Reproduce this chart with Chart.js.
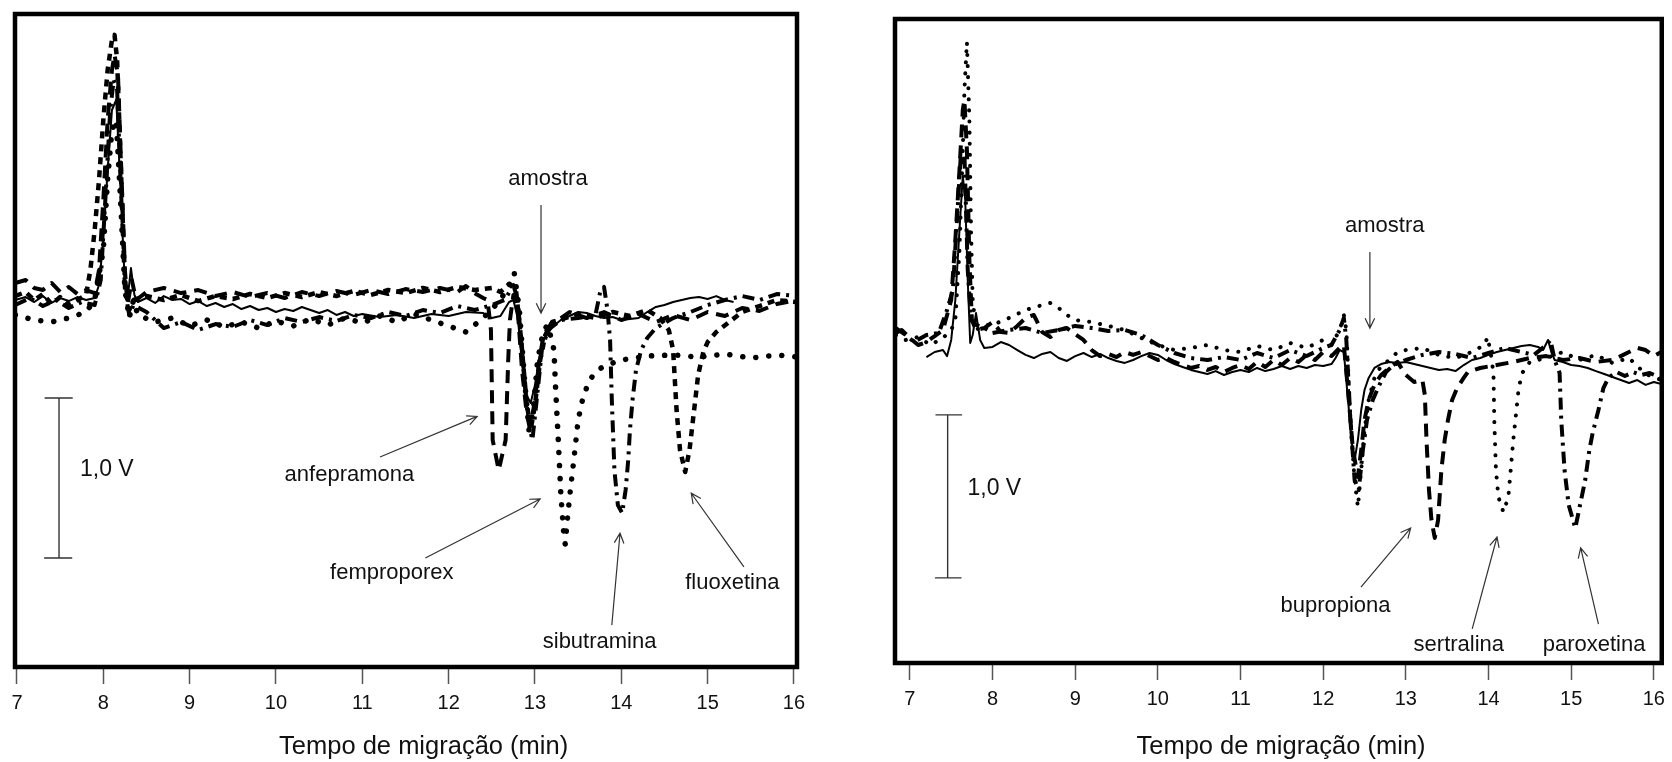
<!DOCTYPE html>
<html lang="pt">
<head>
  <meta charset="UTF-8" />
  <title>Eletroferogramas</title>
  <script src="https://cdn.jsdelivr.net/npm/chart.js"></script>
  <style>
    html, body { margin: 0; padding: 0; background: #fff; }
    #wrap { position: relative; width: 1672px; height: 762px; }
    canvas { position: absolute; top: 0; }
    #left { left: 0; }
    #right { left: 836px; }
  </style>
</head>
<body>
  <div id="wrap">
    <canvas id="left" width="836" height="762"></canvas>
    <canvas id="right" width="836" height="762"></canvas>
  </div>

  <script>
    // tempo de migração (min) x sinal (V)
    const xTicks = [7, 8, 9, 10, 11, 12, 13, 14, 15, 16];

    // ---- painel esquerdo ----
    const amostraL = [[6.98,-0.0625],[7.1,-0.044],[7.2,-0.075],[7.3,-0.038],[7.4,-0.081],[7.5,-0.05],[7.6,-0.069],[7.7,-0.044],[7.8,-0.0625],[7.9,-0.05],[7.95,0.031],[8.0,0.3125],[8.05,0.75],[8.1,1.125],[8.15,1.19],[8.2,0.625],[8.25,0.031],[8.28,-0.0625],[8.32,0.1375],[8.36,-0.031],[8.4,-0.075],[8.5,-0.05],[8.6,-0.081],[8.7,-0.038],[8.8,-0.0625],[8.9,-0.056],[9.0,-0.0875],[9.1,-0.069],[9.2,-0.1],[9.3,-0.081],[9.4,-0.106],[9.5,-0.0875],[9.6,-0.119],[9.7,-0.1],[9.8,-0.125],[9.9,-0.1125],[10.0,-0.1375],[10.1,-0.119],[10.2,-0.131],[10.3,-0.106],[10.4,-0.125],[10.5,-0.144],[10.6,-0.125],[10.7,-0.156],[10.8,-0.1375],[10.9,-0.1625],[11.0,-0.15],[11.2,-0.169],[11.4,-0.156],[11.6,-0.175],[11.8,-0.15],[12.0,-0.1625],[12.2,-0.1375],[12.4,-0.144],[12.5,-0.175],[12.6,-0.1625],[12.7,-0.075],[12.75,-0.0625],[12.8,-0.175],[12.85,-0.4375],[12.9,-0.656],[12.95,-0.706],[13.0,-0.594],[13.05,-0.425],[13.1,-0.3125],[13.2,-0.231],[13.3,-0.1875],[13.4,-0.1625],[13.5,-0.1375],[13.6,-0.144],[13.7,-0.1625],[13.8,-0.175],[13.9,-0.169],[14.0,-0.1875],[14.1,-0.181],[14.2,-0.175],[14.3,-0.1375],[14.4,-0.106],[14.5,-0.094],[14.6,-0.075],[14.7,-0.0625],[14.8,-0.05],[14.9,-0.044],[15.0,-0.056],[15.1,-0.038],[15.2,-0.0625],[15.3,-0.075]];
    const anfepramona = [[6.98,0.044],[7.1,0.0625],[7.2,0.0125],[7.3,0],[7.4,0.044],[7.5,-0.0125],[7.6,0.019],[7.7,-0.025],[7.8,0],[7.9,-0.019],[7.95,0.125],[8.0,0.5625],[8.05,1.0625],[8.1,1.375],[8.13,1.47],[8.17,1.344],[8.2,0.875],[8.25,0.125],[8.28,-0.094],[8.33,0.0625],[8.38,-0.0625],[8.5,-0.0125],[8.7,0.0125],[8.9,-0.019],[9.1,0],[9.3,-0.0375],[9.5,-0.0125],[9.7,-0.044],[9.9,-0.019],[10.1,-0.05],[10.3,-0.0125],[10.5,-0.0375],[10.7,-0.006],[10.9,-0.031],[11.1,0],[11.3,-0.025],[11.5,0.006],[11.7,-0.0125],[11.9,0.0125],[12.1,-0.0125],[12.2,0.025],[12.3,-0.019],[12.4,-0.05],[12.45,-0.0625],[12.49,-0.25],[12.51,-0.9375],[12.58,-1.125],[12.66,-0.9375],[12.69,-0.4375],[12.71,-0.1875],[12.75,-0.031],[12.8,-0.125],[12.85,-0.5],[12.9,-0.75],[12.95,-0.844],[13.0,-0.6875],[13.05,-0.4375],[13.1,-0.281],[13.2,-0.2],[13.3,-0.175],[13.4,-0.1375],[13.6,-0.175],[13.8,-0.1375],[14.0,-0.1875],[14.2,-0.15],[14.4,-0.2],[14.6,-0.156],[14.8,-0.1875],[15.0,-0.1375],[15.2,-0.1625],[15.4,-0.1125],[15.6,-0.131],[15.8,-0.0875],[16.03,-0.0625]];
    const femproporex = [[6.98,-0.156],[7.2,-0.1875],[7.4,-0.2],[7.6,-0.175],[7.8,-0.1375],[7.9,-0.0625],[8.0,0.25],[8.05,0.6875],[8.1,1.0],[8.15,1.0625],[8.2,0.5625],[8.25,0.0],[8.3,-0.175],[8.35,-0.0625],[8.4,-0.156],[8.6,-0.2],[8.8,-0.175],[9.0,-0.225],[9.2,-0.1875],[9.4,-0.231],[9.6,-0.2],[9.8,-0.2375],[10.0,-0.194],[10.2,-0.225],[10.4,-0.181],[10.6,-0.219],[10.8,-0.175],[11.0,-0.206],[11.2,-0.1625],[11.4,-0.2],[11.6,-0.15],[11.8,-0.1875],[12.0,-0.225],[12.2,-0.2625],[12.4,-0.175],[12.6,-0.0625],[12.7,0.031],[12.76,0.106],[12.82,-0.125],[12.88,-0.5625],[12.93,-0.875],[12.98,-0.75],[13.03,-0.4375],[13.1,-0.25],[13.15,-0.219],[13.22,-0.375],[13.24,-0.625],[13.27,-0.9375],[13.3,-1.28],[13.33,-1.5],[13.35,-1.5875],[13.38,-1.406],[13.41,-1.25],[13.45,-1.0625],[13.5,-0.8125],[13.55,-0.6875],[13.62,-0.575],[13.7,-0.5125],[13.8,-0.475],[14.0,-0.4375],[14.3,-0.4125],[14.6,-0.406],[14.9,-0.419],[15.2,-0.4],[15.5,-0.425],[15.8,-0.406],[16.03,-0.419]];
    const sibutramina = [[6.98,-0.094],[7.15,-0.05],[7.3,-0.1],[7.45,-0.0625],[7.6,-0.1125],[7.75,-0.075],[7.9,-0.094],[7.97,0.0625],[8.03,0.625],[8.08,1.125],[8.12,1.3125],[8.16,1.25],[8.2,0.6875],[8.25,0.0],[8.3,-0.156],[8.35,-0.094],[8.5,-0.1375],[8.7,-0.2375],[8.9,-0.2],[9.1,-0.25],[9.3,-0.2125],[9.5,-0.231],[9.7,-0.1875],[9.9,-0.219],[10.1,-0.175],[10.3,-0.2],[10.5,-0.169],[10.7,-0.194],[10.9,-0.156],[11.1,-0.175],[11.3,-0.1375],[11.5,-0.1625],[11.7,-0.125],[11.9,-0.144],[12.1,-0.1],[12.3,-0.125],[12.5,-0.094],[12.65,-0.0625],[12.75,0.031],[12.8,-0.0625],[12.86,-0.4375],[12.92,-0.8125],[12.97,-0.9375],[13.02,-0.6875],[13.08,-0.375],[13.15,-0.25],[13.3,-0.1875],[13.5,-0.175],[13.7,-0.156],[13.76,0.0],[13.8,0.019],[13.84,-0.125],[13.87,-0.3125],[13.89,-0.6875],[13.92,-1.125],[13.96,-1.344],[14.01,-1.394],[14.05,-1.25],[14.08,-1.0625],[14.1,-0.875],[14.13,-0.6875],[14.17,-0.5],[14.23,-0.375],[14.3,-0.3],[14.4,-0.2375],[14.6,-0.175],[14.8,-0.1375],[15.0,-0.094],[15.2,-0.0625],[15.4,-0.0375],[15.6,-0.0625],[15.8,-0.025],[16.03,-0.0375]];
    const fluoxetina = [[6.98,-0.0375],[7.1,-0.0125],[7.2,-0.0625],[7.3,-0.025],[7.4,-0.0875],[7.5,-0.044],[7.6,-0.094],[7.7,-0.0625],[7.8,-0.031],[7.85,0.125],[7.9,0.375],[7.95,0.6875],[8.0,1.0625],[8.05,1.375],[8.1,1.5625],[8.13,1.594],[8.16,1.4375],[8.2,0.8125],[8.25,0.0625],[8.3,-0.125],[8.35,-0.0625],[8.5,-0.0375],[8.7,-0.0625],[8.9,-0.031],[9.1,-0.069],[9.3,-0.0375],[9.5,-0.056],[9.7,-0.025],[9.9,-0.05],[10.1,-0.019],[10.3,-0.044],[10.5,-0.0125],[10.7,-0.0375],[10.9,-0.006],[11.1,-0.031],[11.3,0.0],[11.5,-0.019],[11.7,0.0125],[11.9,-0.0125],[12.1,0.019],[12.3,0.0],[12.5,0.0125],[12.6,-0.0125],[12.7,0.0375],[12.78,0.0],[12.84,-0.3125],[12.9,-0.6875],[12.95,-0.875],[13.0,-0.719],[13.06,-0.4375],[13.12,-0.281],[13.2,-0.2],[13.35,-0.175],[13.5,-0.15],[13.7,-0.175],[13.9,-0.1375],[14.1,-0.1625],[14.3,-0.125],[14.45,-0.175],[14.55,-0.25],[14.6,-0.375],[14.64,-0.75],[14.68,-1.0],[14.74,-1.1375],[14.79,-1.0],[14.83,-0.8125],[14.89,-0.531],[14.95,-0.3875],[15.0,-0.325],[15.1,-0.2625],[15.25,-0.2],[15.4,-0.1375],[15.6,-0.1],[15.8,-0.0625],[16.03,-0.075]];

    // ---- painel direito ----
    const amostraR = [[7.2,-0.166],[7.3,-0.135],[7.4,-0.123],[7.45,-0.16],[7.5,-0.061],[7.55,0.184],[7.6,0.613],[7.64,0.945],[7.67,0.798],[7.7,0.307],[7.73,-0.08],[7.76,-0.031],[7.8,0.104],[7.85,-0.061],[7.9,-0.11],[8.0,-0.104],[8.1,-0.074],[8.2,-0.092],[8.3,-0.123],[8.4,-0.153],[8.5,-0.172],[8.6,-0.147],[8.7,-0.135],[8.8,-0.172],[8.9,-0.19],[9.0,-0.16],[9.1,-0.141],[9.2,-0.166],[9.3,-0.147],[9.4,-0.172],[9.5,-0.19],[9.6,-0.202],[9.7,-0.184],[9.8,-0.16],[9.9,-0.141],[10.0,-0.153],[10.1,-0.184],[10.2,-0.209],[10.3,-0.227],[10.4,-0.245],[10.5,-0.258],[10.6,-0.27],[10.7,-0.252],[10.8,-0.276],[10.9,-0.258],[11.0,-0.245],[11.1,-0.258],[11.2,-0.233],[11.3,-0.252],[11.4,-0.239],[11.5,-0.221],[11.6,-0.239],[11.7,-0.221],[11.8,-0.233],[11.9,-0.215],[12.0,-0.221],[12.1,-0.209],[12.15,-0.172],[12.2,-0.123],[12.25,-0.135],[12.3,-0.429],[12.35,-0.706],[12.38,-0.798],[12.42,-0.675],[12.46,-0.491],[12.5,-0.368],[12.55,-0.294],[12.62,-0.233],[12.7,-0.209],[12.8,-0.196],[12.9,-0.202],[13.0,-0.196],[13.1,-0.209],[13.2,-0.221],[13.3,-0.233],[13.4,-0.245],[13.5,-0.239],[13.6,-0.252],[13.7,-0.215],[13.8,-0.184],[13.9,-0.172],[14.0,-0.153],[14.1,-0.135],[14.2,-0.123],[14.3,-0.11],[14.4,-0.098],[14.5,-0.092],[14.6,-0.104],[14.66,-0.123],[14.72,-0.061],[14.76,-0.135],[14.8,-0.184],[14.9,-0.196],[15.0,-0.215],[15.1,-0.221],[15.2,-0.233],[15.3,-0.252],[15.4,-0.27],[15.5,-0.288],[15.6,-0.307],[15.7,-0.325],[15.8,-0.307],[15.9,-0.337],[16.0,-0.319],[16.09,-0.331]];
    const bupropiona = [[6.83,-0.018],[6.9,0],[7.0,-0.049],[7.1,-0.092],[7.2,-0.074],[7.3,-0.037],[7.4,0],[7.5,0.184],[7.55,0.552],[7.6,0.982],[7.64,1.35],[7.66,1.411],[7.69,1.104],[7.72,0.429],[7.75,0.061],[7.8,0],[7.9,0.012],[8.0,0.049],[8.1,-0.012],[8.2,-0.018],[8.3,0.025],[8.4,0.074],[8.5,0.092],[8.6,-0.012],[8.7,-0.043],[8.8,0],[8.9,0.012],[9.0,-0.025],[9.1,-0.061],[9.2,-0.123],[9.3,-0.16],[9.4,-0.147],[9.5,-0.166],[9.6,-0.135],[9.7,-0.153],[9.8,-0.135],[9.9,-0.16],[10.0,-0.184],[10.1,-0.172],[10.2,-0.196],[10.3,-0.215],[10.4,-0.233],[10.5,-0.221],[10.6,-0.245],[10.7,-0.227],[10.8,-0.258],[10.9,-0.233],[11.0,-0.215],[11.1,-0.239],[11.2,-0.196],[11.3,-0.227],[11.4,-0.184],[11.5,-0.215],[11.6,-0.172],[11.7,-0.196],[11.8,-0.153],[11.9,-0.184],[12.0,-0.135],[12.1,-0.16],[12.2,-0.11],[12.25,-0.092],[12.3,-0.368],[12.36,-0.736],[12.42,-0.902],[12.46,-0.736],[12.5,-0.552],[12.55,-0.429],[12.62,-0.337],[12.7,-0.276],[12.8,-0.233],[12.9,-0.196],[13.0,-0.276],[13.1,-0.319],[13.2,-0.307],[13.23,-0.399],[13.25,-0.675],[13.28,-0.982],[13.31,-1.166],[13.35,-1.276],[13.39,-1.166],[13.43,-0.859],[13.47,-0.675],[13.51,-0.552],[13.56,-0.429],[13.62,-0.356],[13.7,-0.294],[13.75,-0.258],[13.9,-0.233],[14.1,-0.215],[14.3,-0.196],[14.5,-0.172],[14.7,-0.16],[14.9,-0.184],[15.1,-0.172],[15.3,-0.196],[15.5,-0.184],[15.6,-0.16],[15.7,-0.135],[15.8,-0.11],[15.9,-0.123],[16.0,-0.16],[16.09,-0.135]];
    const sertralina = [[6.83,-0.031],[6.95,-0.061],[7.1,-0.043],[7.25,-0.092],[7.4,-0.049],[7.5,0.0],[7.55,0.061],[7.6,0.491],[7.64,1.104],[7.66,1.472],[7.69,1.767],[7.72,1.288],[7.74,0.613],[7.76,0.184],[7.8,0],[7.9,0.031],[8.0,0.031],[8.2,0.074],[8.4,0.123],[8.6,0.153],[8.7,0.166],[8.8,0.135],[8.9,0.092],[9.0,0.061],[9.2,0.049],[9.4,0.025],[9.6,0],[9.8,-0.049],[10.0,-0.092],[10.2,-0.123],[10.4,-0.11],[10.6,-0.092],[10.8,-0.123],[11.0,-0.135],[11.2,-0.098],[11.4,-0.123],[11.6,-0.08],[11.8,-0.11],[12.0,-0.061],[12.1,-0.092],[12.2,0],[12.25,0.092],[12.28,0],[12.33,-0.552],[12.38,-0.92],[12.42,-1.086],[12.46,-0.859],[12.5,-0.613],[12.55,-0.429],[12.62,-0.294],[12.7,-0.221],[12.8,-0.184],[12.9,-0.135],[13.0,-0.123],[13.2,-0.11],[13.4,-0.153],[13.6,-0.172],[13.8,-0.135],[13.95,-0.092],[13.99,-0.043],[14.03,-0.153],[14.06,-0.264],[14.07,-0.552],[14.09,-0.859],[14.12,-1.025],[14.18,-1.117],[14.24,-1.025],[14.3,-0.675],[14.36,-0.38],[14.4,-0.27],[14.5,-0.196],[14.7,-0.172],[14.9,-0.135],[15.1,-0.184],[15.3,-0.153],[15.5,-0.202],[15.7,-0.172],[15.9,-0.27],[16.09,-0.307]];
    const paroxetina = [[6.83,0.012],[6.95,-0.031],[7.05,-0.074],[7.2,-0.031],[7.35,-0.018],[7.45,0.123],[7.52,0.245],[7.57,0.675],[7.62,1.104],[7.66,1.08],[7.7,0.368],[7.74,0.061],[7.8,0.031],[7.9,0.012],[8.0,-0.018],[8.2,0],[8.4,0.012],[8.6,-0.018],[8.8,0],[9.0,0.025],[9.2,0.012],[9.4,-0.006],[9.6,0],[9.8,-0.031],[10.0,-0.092],[10.2,-0.141],[10.4,-0.172],[10.6,-0.184],[10.8,-0.166],[11.0,-0.184],[11.2,-0.141],[11.4,-0.172],[11.6,-0.123],[11.8,-0.16],[12.0,-0.11],[12.1,-0.092],[12.2,0],[12.25,0.074],[12.28,-0.061],[12.33,-0.552],[12.38,-0.92],[12.43,-0.982],[12.48,-0.736],[12.53,-0.552],[12.6,-0.429],[12.68,-0.337],[12.76,-0.258],[12.85,-0.215],[13.0,-0.184],[13.2,-0.153],[13.4,-0.135],[13.6,-0.147],[13.8,-0.172],[14.0,-0.141],[14.2,-0.11],[14.4,-0.135],[14.55,-0.153],[14.7,-0.092],[14.75,-0.061],[14.8,-0.184],[14.86,-0.264],[14.88,-0.552],[14.92,-0.859],[14.97,-1.074],[15.05,-1.215],[15.12,-1.043],[15.17,-0.92],[15.22,-0.736],[15.26,-0.632],[15.33,-0.491],[15.39,-0.356],[15.45,-0.294],[15.55,-0.258],[15.65,-0.282],[15.75,-0.258],[15.85,-0.276],[15.95,-0.264],[16.09,-0.294]];

    // barras de escala de 1,0 V
    const scaleBarL = [[7.32,-0.675],[7.64,-0.675],[7.487,-0.675],[7.487,-1.675],[7.32,-1.675],[7.64,-1.675]];
    const scaleBarR = [[7.31,-0.521],[7.625,-0.521],[7.457,-0.521],[7.457,-1.521],[7.31,-1.521],[7.625,-1.521]];

    // rótulos: texto, tempo, sinal, alinhamento
    const labelsL = [['amostra',13.15,0.694,'center'],['1,0 V',7.73,-1.125,'left'],['anfepramona',10.1,-1.156,'left'],['femproporex',10.626,-1.77,'left'],['sibutramina',13.09,-2.2,'left'],['fluoxetina',14.74,-1.83,'left']];
    const labelsR = [['amostra',12.745,0.638,'center'],['1,0 V',7.697,-0.975,'left'],['bupropiona',11.483,-1.693,'left'],['sertralina',13.094,-1.933,'left'],['paroxetina',14.656,-1.933,'left']];
    // setas: de (t, v) até (t, v)
    const arrowsL = [[13.07,0.531,13.07,-0.144],[11.205,-1.044,12.33,-0.79],[11.73,-1.675,13.06,-1.306],[13.89,-2.094,13.985,-1.52],[15.42,-1.73,14.81,-1.27]];
    const arrowsR = [[12.565,0.479,12.565,0.012],[12.457,-1.577,13.058,-1.215],[13.803,-1.834,14.103,-1.27],[15.33,-1.804,15.115,-1.337]];

    const FONT = '"Liberation Sans", Arial, sans-serif';
    Chart.defaults.font.family = FONT;

    const styles = {
      solid:    { borderWidth: 2, borderDash: [], borderCapStyle: 'butt' },
      longDash: { borderWidth: 4, borderDash: [13, 8], borderCapStyle: 'butt' },
      dots:     { borderWidth: 5.5, borderDash: [0.1, 13], borderCapStyle: 'round' },
      smallDots:{ borderWidth: 4, borderDash: [0.1, 11], borderCapStyle: 'round' },
      dashDot:  { borderWidth: 4, borderDash: [12, 6, 3, 6], borderCapStyle: 'butt' },
      shortDash:{ borderWidth: 4.5, borderDash: [7, 6], borderCapStyle: 'butt' },
      bar:      { borderWidth: 1.4, borderDash: [], borderCapStyle: 'butt', borderColor: '#333' }
    };

    function series(points, style) {
      return Object.assign({
        data: points.map(p => ({ x: p[0], y: p[1] })),
        showLine: true,
        pointRadius: 0,
        borderColor: '#000',
        borderJoinStyle: 'round',
        tension: 0
      }, styles[style]);
    }

    const decor = {
      id: 'decor',
      afterDraw(chart, args, opts) {
        const { ctx, chartArea: a } = chart;
        const x = chart.scales.x, y = chart.scales.y;
        ctx.save();
        ctx.strokeStyle = '#000';
        ctx.lineWidth = 4.5;
        ctx.strokeRect(a.left, a.top, a.right - a.left, a.bottom - a.top);

        ctx.strokeStyle = '#333';
        ctx.lineWidth = 1.2;
        opts.arrows.forEach(([t0, v0, t1, v1]) => {
          const x0 = x.getPixelForValue(t0), y0 = y.getPixelForValue(v0);
          const x1 = x.getPixelForValue(t1), y1 = y.getPixelForValue(v1);
          const ang = Math.atan2(y1 - y0, x1 - x0);
          ctx.beginPath();
          ctx.moveTo(x0, y0);
          ctx.lineTo(x1, y1);
          ctx.moveTo(x1 - 11 * Math.cos(ang - 0.45), y1 - 11 * Math.sin(ang - 0.45));
          ctx.lineTo(x1, y1);
          ctx.lineTo(x1 - 11 * Math.cos(ang + 0.45), y1 - 11 * Math.sin(ang + 0.45));
          ctx.stroke();
        });

        ctx.fillStyle = '#111';
        ctx.textBaseline = 'middle';
        opts.labels.forEach(([text, t, v, align]) => {
          ctx.font = (text === '1,0 V' ? '23px ' : '22px ') + FONT;
          ctx.textAlign = align;
          ctx.fillText(text, x.getPixelForValue(t), y.getPixelForValue(v));
        });

        ctx.font = '25.5px ' + FONT;
        ctx.textAlign = 'center';
        ctx.fillText('Tempo de migração (min)', x.getPixelForValue(opts.titleAt), chart.height - 15);
        ctx.restore();
      }
    };

    function makeChart(id, datasets, cfg) {
      return new Chart(document.getElementById(id), {
        type: 'scatter',
        data: { datasets: datasets },
        plugins: [decor],
        options: {
          responsive: false,
          animation: false,
          events: [],
          layout: { padding: cfg.padding },
          plugins: {
            legend: { display: false },
            tooltip: { enabled: false },
            decor: { labels: cfg.labels, arrows: cfg.arrows, titleAt: cfg.titleAt }
          },
          scales: {
            x: {
              type: 'linear',
              min: cfg.xMin,
              max: cfg.xMax,
              afterBuildTicks: s => { s.ticks = xTicks.map(v => ({ value: v })); },
              afterFit: s => { s.height = cfg.axisH; },
              border: { display: false },
              grid: { display: true, drawOnChartArea: false, drawTicks: true, tickLength: 17, tickColor: '#555', tickWidth: 1.5 },
              ticks: { color: '#111', font: { size: 20 }, padding: 7, maxRotation: 0, autoSkip: false }
            },
            y: { display: false, min: cfg.yMin, max: cfg.yMax }
          }
        }
      });
    }

    makeChart('left', [
      series(anfepramona, 'longDash'),
      series(femproporex, 'dots'),
      series(sibutramina, 'dashDot'),
      series(fluoxetina, 'shortDash'),
      series(amostraL, 'solid'),
      series(scaleBarL, 'bar')
    ], {
      padding: { left: 15, right: 39, top: 14, bottom: 0 },
      axisH: 95, xMin: 6.977, xMax: 16.035, yMin: -2.356, yMax: 1.725,
      labels: labelsL, arrows: arrowsL, titleAt: 11.71
    });

    makeChart('right', [
      series(bupropiona, 'longDash'),
      series(sertralina, 'smallDots'),
      series(paroxetina, 'dashDot'),
      series(amostraR, 'solid'),
      series(scaleBarR, 'bar')
    ], {
      padding: { left: 59, right: 5, top: 19, bottom: 0 },
      axisH: 99, xMin: 6.82, xMax: 16.096, yMin: -2.043, yMax: 1.908,
      labels: labelsR, arrows: arrowsR, titleAt: 11.49
    });
  </script>
</body>
</html>
